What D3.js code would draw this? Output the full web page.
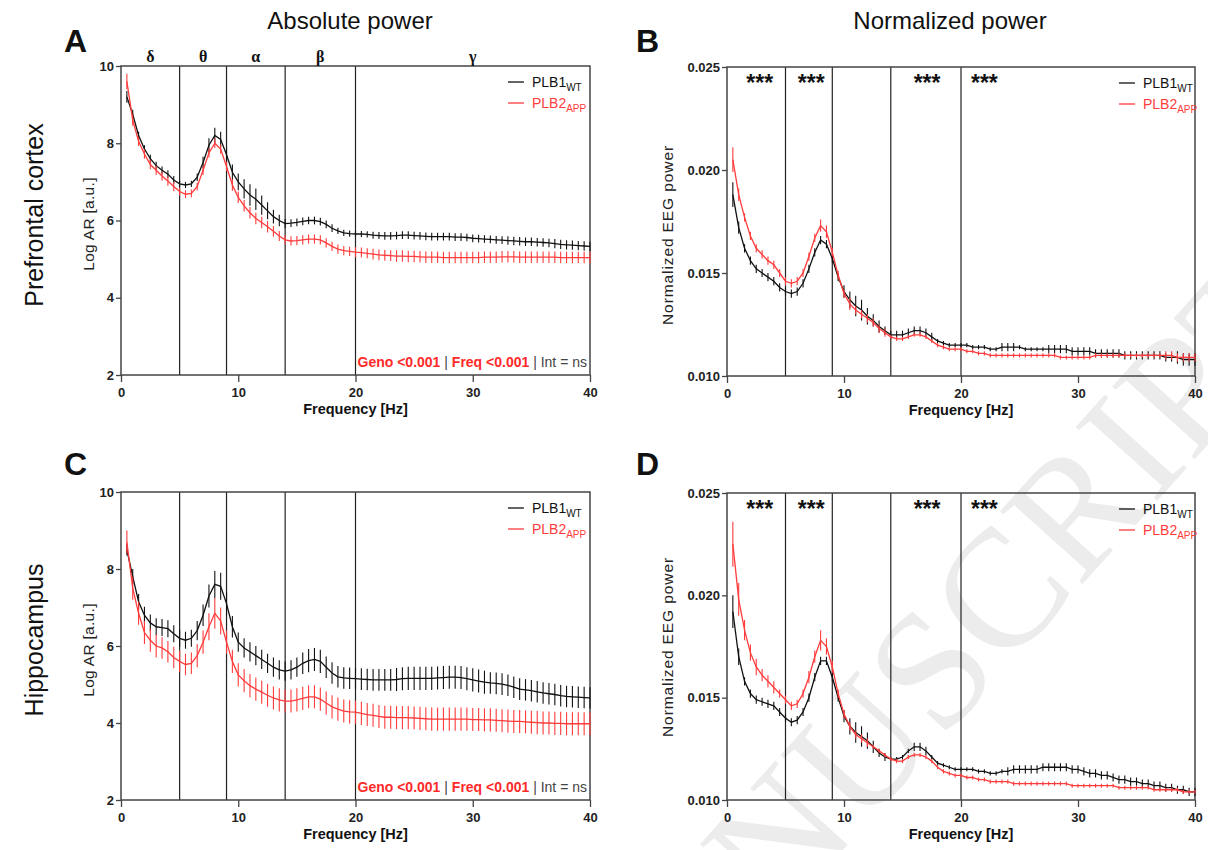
<!DOCTYPE html>
<html>
<head>
<meta charset="utf-8">
<script src="https://cdn.jsdelivr.net/npm/d3@7"></script>
<style>
  body { margin: 0; background: #fff; }
  svg { display: block; font-family: "Liberation Sans", Arial, sans-serif; }
</style>
</head>
<body>
<div id="chart"></div>
<script>
const W = 1208, H = 850;

// frequency bins (Hz)
const freq = [0.5,1,1.5,2,2.5,3,3.5,4,4.5,5,5.5,6,6.5,7,7.5,8,8.5,9,9.5,10,
  10.5,11,11.5,12,12.5,13,13.5,14,14.5,15,15.5,16,16.5,17,17.5,18,18.5,19,19.5,20,
  20.5,21,21.5,22,22.5,23,23.5,24,24.5,25,25.5,26,26.5,27,27.5,28,28.5,29,29.5,30,
  30.5,31,31.5,32,32.5,33,33.5,34,34.5,35,35.5,36,36.5,37,37.5,38,38.5,39,39.5,40];

// A: prefrontal cortex, absolute power (log AR)
const pfcAbsWT = [9.2,8.75,8.2,7.85,7.6,7.42,7.3,7.2,7.05,6.95,6.92,6.95,7.12,7.5,7.95,8.2,8.1,7.7,7.25,7.0,
  6.82,6.66,6.55,6.4,6.25,6.1,6.0,5.92,5.93,5.95,5.98,6.0,6.0,5.97,5.9,5.8,5.73,5.68,5.66,5.65,
  5.65,5.64,5.62,5.61,5.6,5.6,5.61,5.62,5.62,5.61,5.6,5.59,5.58,5.58,5.58,5.58,5.57,5.57,5.56,5.54,
  5.53,5.52,5.51,5.5,5.49,5.48,5.47,5.46,5.45,5.45,5.44,5.43,5.42,5.4,5.38,5.37,5.36,5.35,5.34,5.33];
const pfcAbsAPP = [9.6,8.6,8.05,7.72,7.45,7.3,7.15,7.02,6.88,6.75,6.68,6.7,6.88,7.3,7.75,8.0,7.85,7.4,6.92,6.6,
  6.38,6.2,6.05,5.95,5.84,5.72,5.6,5.5,5.47,5.48,5.5,5.52,5.52,5.5,5.42,5.33,5.26,5.22,5.2,5.18,
  5.17,5.15,5.13,5.11,5.1,5.09,5.08,5.08,5.07,5.07,5.06,5.05,5.05,5.05,5.04,5.04,5.04,5.04,5.04,5.04,
  5.04,5.05,5.05,5.05,5.06,5.06,5.06,5.05,5.05,5.05,5.05,5.05,5.05,5.05,5.04,5.04,5.04,5.04,5.04,5.04];
const pfcAbsWTsem = [0.15,0.12,0.1,0.1,0.1,0.1,0.1,0.1,0.1,0.08,0.08,0.08,0.1,0.15,0.18,0.2,0.2,0.18,0.2,0.22,
  0.25,0.28,0.28,0.25,0.22,0.18,0.15,0.12,0.1,0.1,0.1,0.1,0.1,0.1,0.1,0.1,0.08,0.08,0.08,0.08,
  0.08,0.08,0.09,0.09,0.1,0.1,0.1,0.1,0.1,0.1,0.1,0.1,0.1,0.1,0.1,0.1,0.1,0.1,0.1,0.1,
  0.1,0.1,0.1,0.1,0.1,0.11,0.11,0.11,0.11,0.11,0.11,0.11,0.11,0.12,0.12,0.12,0.12,0.12,0.12,0.12];
const pfcAbsAPPsem = [0.2,0.15,0.12,0.12,0.12,0.12,0.12,0.12,0.12,0.1,0.1,0.1,0.1,0.12,0.12,0.12,0.12,0.12,0.15,0.15,
  0.15,0.15,0.15,0.15,0.15,0.14,0.13,0.12,0.12,0.12,0.12,0.12,0.12,0.12,0.12,0.12,0.12,0.12,0.12,0.13,
  0.13,0.13,0.14,0.14,0.14,0.14,0.15,0.15,0.15,0.15,0.15,0.15,0.15,0.15,0.15,0.15,0.15,0.15,0.15,0.15,
  0.15,0.15,0.15,0.15,0.15,0.15,0.15,0.15,0.15,0.15,0.15,0.15,0.15,0.15,0.15,0.15,0.15,0.15,0.15,0.15];

// B: prefrontal cortex, normalized power
const pfcNormWT = [0.0188,0.0172,0.0162,0.0156,0.0152,0.0150,0.0148,0.0146,0.0143,0.0141,0.0140,0.0141,0.0145,0.0152,0.0160,0.0166,0.0164,0.0157,0.0148,0.0141,
  0.0137,0.0134,0.0132,0.0129,0.0127,0.0124,0.0122,0.0120,0.0120,0.0120,0.0121,0.0122,0.0122,0.0121,0.0119,0.0117,0.0116,0.0115,0.0115,0.0115,
  0.0115,0.0114,0.0114,0.0114,0.0113,0.0113,0.0114,0.0114,0.0114,0.0114,0.0113,0.0113,0.0113,0.0113,0.0113,0.0113,0.0113,0.0113,0.0112,0.0112,
  0.0112,0.0112,0.0111,0.0111,0.0111,0.0111,0.0111,0.0110,0.0110,0.0110,0.0110,0.0110,0.0110,0.0110,0.0109,0.0109,0.0109,0.0108,0.0108,0.0108];
const pfcNormAPP = [0.0205,0.0188,0.0177,0.0168,0.0162,0.0159,0.0156,0.0154,0.0150,0.0146,0.0145,0.0146,0.0150,0.0158,0.0167,0.0173,0.0170,0.0160,0.0149,0.0140,
  0.0135,0.0132,0.0130,0.0128,0.0126,0.0123,0.0121,0.0119,0.0118,0.0118,0.0119,0.0120,0.0120,0.0119,0.0117,0.0115,0.0114,0.0113,0.0113,0.0113,
  0.0112,0.0112,0.0111,0.0111,0.0110,0.0110,0.0110,0.0110,0.0110,0.0110,0.0110,0.0110,0.0110,0.0110,0.0110,0.0110,0.0109,0.0109,0.0109,0.0109,
  0.0109,0.0109,0.0110,0.0110,0.0110,0.0110,0.0110,0.0110,0.0110,0.0110,0.0110,0.0110,0.0110,0.0110,0.0110,0.0110,0.0109,0.0109,0.0109,0.0109];
const pfcNormWTsem = [0.0006,0.0003,0.0002,0.0002,0.0002,0.0002,0.0002,0.0002,0.0002,0.0002,0.0002,0.0002,0.0002,0.0002,0.0002,0.0002,0.0002,0.0002,0.0002,0.0003,
  0.0004,0.0005,0.0005,0.0004,0.0003,0.0003,0.0002,0.0002,0.0002,0.0002,0.0002,0.0002,0.0002,0.0002,0.0002,0.0001,0.0001,0.0001,0.0001,0.0001,
  0.0001,0.0001,0.0001,0.0001,0.0001,0.0001,0.0002,0.0002,0.0002,0.0001,0.0001,0.0001,0.0001,0.0001,0.0002,0.0002,0.0002,0.0002,0.0002,0.0002,
  0.0002,0.0002,0.0002,0.0002,0.0002,0.0002,0.0002,0.0002,0.0002,0.0002,0.0002,0.0002,0.0002,0.0002,0.0002,0.0002,0.0003,0.0003,0.0003,0.0003];
const pfcNormAPPsem = [0.0006,0.0003,0.0002,0.0002,0.0002,0.0002,0.0002,0.0002,0.0002,0.0002,0.0002,0.0002,0.0002,0.0002,0.0002,0.0003,0.0003,0.0002,0.0002,0.0002,
  0.0003,0.0002,0.0002,0.0002,0.0002,0.0002,0.0002,0.0001,0.0001,0.0001,0.0001,0.0001,0.0001,0.0001,0.0001,0.0001,0.0001,0.0001,0.0001,0.0001,
  0.0001,0.0001,0.0001,0.0001,0.0001,0.0001,0.0001,0.0001,0.0001,0.0001,0.0001,0.0001,0.0001,0.0001,0.0001,0.0001,0.0001,0.0001,0.0001,0.0001,
  0.0001,0.0001,0.0001,0.0001,0.0001,0.0001,0.0001,0.0001,0.0001,0.0001,0.0001,0.0001,0.0001,0.0001,0.0002,0.0002,0.0002,0.0002,0.0002,0.0002];

// C: hippocampus, absolute power (log AR)
const hipAbsWT = [8.5,7.8,7.15,6.8,6.6,6.5,6.48,6.45,6.32,6.2,6.15,6.2,6.4,6.8,7.3,7.6,7.55,7.1,6.5,6.1,
  5.95,5.85,5.75,5.65,5.55,5.45,5.38,5.35,5.38,5.45,5.55,5.62,5.65,5.6,5.45,5.3,5.2,5.17,5.16,5.15,
  5.14,5.13,5.12,5.12,5.12,5.12,5.13,5.15,5.16,5.16,5.16,5.16,5.16,5.17,5.18,5.19,5.19,5.18,5.15,5.12,
  5.09,5.06,5.04,5.03,5.01,4.98,4.93,4.88,4.86,4.84,4.81,4.78,4.76,4.74,4.71,4.69,4.68,4.67,4.66,4.65];
const hipAbsAPP = [8.7,7.5,6.85,6.35,6.15,6.0,5.95,5.85,5.7,5.6,5.52,5.55,5.75,6.1,6.5,6.85,6.65,6.1,5.6,5.25,
  5.1,4.97,4.88,4.8,4.72,4.65,4.6,4.57,4.57,4.6,4.64,4.68,4.68,4.62,4.52,4.42,4.36,4.31,4.29,4.28,
  4.25,4.22,4.2,4.17,4.15,4.15,4.14,4.14,4.14,4.13,4.12,4.11,4.1,4.1,4.1,4.1,4.1,4.1,4.1,4.09,
  4.09,4.08,4.08,4.07,4.06,4.05,4.04,4.04,4.03,4.02,4.01,4.0,4.0,3.99,3.99,3.98,3.98,3.98,3.98,3.98];
const hipAbsWTsem = [0.15,0.2,0.2,0.22,0.22,0.22,0.22,0.22,0.22,0.22,0.22,0.22,0.25,0.28,0.3,0.35,0.35,0.3,0.28,0.25,
  0.25,0.25,0.25,0.25,0.25,0.25,0.25,0.25,0.25,0.25,0.28,0.3,0.3,0.3,0.28,0.28,0.28,0.28,0.28,0.28,
  0.28,0.28,0.28,0.28,0.28,0.28,0.3,0.3,0.3,0.3,0.3,0.3,0.3,0.3,0.3,0.3,0.3,0.3,0.3,0.3,
  0.3,0.3,0.28,0.28,0.28,0.28,0.28,0.28,0.28,0.28,0.28,0.28,0.28,0.28,0.28,0.28,0.28,0.28,0.28,0.28];
const hipAbsAPPsem = [0.3,0.3,0.3,0.3,0.3,0.3,0.28,0.28,0.28,0.28,0.28,0.28,0.3,0.3,0.35,0.4,0.35,0.3,0.3,0.3,
  0.3,0.3,0.3,0.3,0.3,0.3,0.3,0.3,0.3,0.3,0.3,0.3,0.3,0.3,0.3,0.3,0.3,0.3,0.3,0.3,
  0.3,0.3,0.3,0.3,0.3,0.3,0.3,0.3,0.3,0.3,0.3,0.3,0.3,0.3,0.3,0.3,0.3,0.3,0.3,0.3,
  0.3,0.3,0.3,0.3,0.3,0.3,0.3,0.3,0.3,0.3,0.3,0.3,0.3,0.3,0.3,0.3,0.3,0.3,0.3,0.3];

// D: hippocampus, normalized power
const hipNormWT = [0.0192,0.0170,0.0158,0.0152,0.0149,0.0148,0.0147,0.0146,0.0143,0.0140,0.0138,0.0139,0.0143,0.0150,0.0160,0.0168,0.0168,0.0160,0.0150,0.0141,
  0.0136,0.0133,0.0131,0.0129,0.0126,0.0123,0.0121,0.0120,0.0120,0.0121,0.0124,0.0126,0.0126,0.0124,0.0121,0.0118,0.0117,0.0116,0.0115,0.0115,
  0.0115,0.0115,0.0114,0.0114,0.0113,0.0113,0.0114,0.0114,0.0115,0.0115,0.0115,0.0115,0.0115,0.0116,0.0116,0.0116,0.0116,0.0116,0.0115,0.0115,
  0.0114,0.0113,0.0113,0.0112,0.0112,0.0111,0.0110,0.0110,0.0109,0.0109,0.0108,0.0108,0.0107,0.0107,0.0106,0.0106,0.0105,0.0105,0.0104,0.0104];
const hipNormAPP = [0.0225,0.0198,0.0183,0.0172,0.0165,0.0161,0.0158,0.0155,0.0152,0.0149,0.0146,0.0147,0.0152,0.0160,0.0170,0.0178,0.0175,0.0165,0.0152,0.0142,
  0.0136,0.0132,0.0130,0.0128,0.0126,0.0124,0.0122,0.0120,0.0119,0.0119,0.0121,0.0122,0.0122,0.0121,0.0119,0.0116,0.0114,0.0113,0.0112,0.0112,
  0.0111,0.0111,0.0110,0.0110,0.0109,0.0109,0.0109,0.0109,0.0108,0.0108,0.0108,0.0108,0.0108,0.0108,0.0108,0.0108,0.0108,0.0108,0.0107,0.0107,
  0.0107,0.0107,0.0107,0.0107,0.0107,0.0107,0.0106,0.0106,0.0106,0.0106,0.0106,0.0106,0.0105,0.0105,0.0105,0.0105,0.0105,0.0104,0.0104,0.0104];
const hipNormWTsem = [0.0008,0.0004,0.0002,0.0002,0.0002,0.0002,0.0002,0.0002,0.0002,0.0002,0.0002,0.0002,0.0002,0.0002,0.0002,0.0002,0.0002,0.0002,0.0002,0.0003,
  0.0004,0.0005,0.0005,0.0004,0.0003,0.0002,0.0002,0.0001,0.0001,0.0001,0.0001,0.0002,0.0002,0.0002,0.0001,0.0001,0.0001,0.0001,0.0001,0.0001,
  0.0001,0.0001,0.0001,0.0001,0.0001,0.0001,0.0001,0.0002,0.0002,0.0002,0.0002,0.0002,0.0002,0.0002,0.0002,0.0002,0.0002,0.0002,0.0002,0.0002,
  0.0002,0.0002,0.0002,0.0002,0.0002,0.0002,0.0002,0.0002,0.0002,0.0002,0.0002,0.0002,0.0002,0.0002,0.0002,0.0002,0.0002,0.0002,0.0002,0.0002];
const hipNormAPPsem = [0.0011,0.0008,0.0005,0.0004,0.0004,0.0003,0.0003,0.0003,0.0002,0.0002,0.0002,0.0002,0.0002,0.0003,0.0003,0.0005,0.0004,0.0003,0.0002,0.0002,
  0.0002,0.0002,0.0002,0.0002,0.0001,0.0001,0.0001,0.0001,0.0001,0.0001,0.0001,0.0001,0.0001,0.0001,0.0001,0.0001,0.0001,0.0001,0.0001,0.0001,
  0.0001,0.0001,0.0001,0.0001,0.0001,0.0001,0.0001,0.0001,0.0001,0.0001,0.0001,0.0001,0.0001,0.0001,0.0001,0.0001,0.0001,0.0001,0.0001,0.0001,
  0.0001,0.0001,0.0001,0.0001,0.0001,0.0001,0.0001,0.0001,0.0001,0.0001,0.0001,0.0001,0.0001,0.0001,0.0001,0.0001,0.0001,0.0001,0.0001,0.0001];

// bands, ticks, labels
const bandEdges = [5, 9, 14, 20];
const bandNames = ["δ", "θ", "α", "β", "γ"];
const bandCenters = [2.5, 7, 11.5, 17, 30];
const starPos = [2.8, 7.2, 17.1, 22];
const xTicks = [0, 10, 20, 30, 40];
const absTicks = [2, 4, 6, 8, 10];
const normTicks = [0.010, 0.015, 0.020, 0.025];
const seriesNames = [["PLB1", "WT"], ["PLB2", "APP"]];
const colWT = "#111111", colAPP = "#ff3b3b";

const svg = d3.select("#chart").append("svg").attr("width", W).attr("height", H);

// watermark (behind everything)
svg.append("text")
  .attr("transform", "translate(1322,318) rotate(-48)")
  .attr("text-anchor", "end")
  .attr("font-family", "Liberation Serif, serif")
  .attr("font-size", 168)
  .attr("fill", "#ececec")
  .text("MANUSCRIPT");

function panel(p) {
  const x = d3.scaleLinear().domain([0, 40]).range([p.left, p.right]);
  const y = d3.scaleLinear().domain(p.ydom).range([p.bottom, p.top]);
  const g = svg.append("g");

  // band separators
  g.selectAll("line.band").data(bandEdges).enter().append("line")
    .attr("x1", d => x(d)).attr("x2", d => x(d))
    .attr("y1", p.top).attr("y2", p.bottom)
    .attr("stroke", "#222").attr("stroke-width", 1.2);

  // frame
  g.append("rect")
    .attr("x", p.left).attr("y", p.top)
    .attr("width", p.right - p.left).attr("height", p.bottom - p.top)
    .attr("fill", "none").attr("stroke", "#444").attr("stroke-width", 1.5);

  // axes
  const xa = g.append("g").attr("transform", `translate(0,${p.bottom})`)
    .call(d3.axisBottom(x).tickValues(xTicks).tickSize(7).tickPadding(3));
  const ya = g.append("g").attr("transform", `translate(${p.left},0)`)
    .call(d3.axisLeft(y).tickValues(p.yticks).tickSize(5).tickPadding(2).tickFormat(p.yfmt));
  [xa, ya].forEach(a => {
    a.select(".domain").remove();
    a.selectAll(".tick line").attr("stroke", "#444").attr("stroke-width", 1.3);
    a.selectAll(".tick text").attr("font-size", 13).attr("font-weight", "bold")
      .attr("fill", "#222").attr("font-family", "Liberation Sans, Arial, sans-serif");
  });
  xa.selectAll(".tick text").attr("dy", "0.95em");

  // series: error bars then line
  [[p.wt, p.wtSem, colWT], [p.app, p.appSem, colAPP]].forEach(([vals, sem, col]) => {
    g.selectAll(null).data(freq).enter().append("line")
      .attr("x1", (d) => x(d)).attr("x2", (d) => x(d))
      .attr("y1", (d, i) => y(vals[i] - sem[i])).attr("y2", (d, i) => y(vals[i] + sem[i]))
      .attr("stroke", col).attr("stroke-width", 1.1);
    const line = d3.line().x((d) => x(d)).y((d, i) => y(vals[i]));
    g.append("path").datum(freq).attr("d", line)
      .attr("fill", "none").attr("stroke", col).attr("stroke-width", 1.3);
  });

  // legend
  seriesNames.forEach((s, i) => {
    const ly = p.top + 16 + i * 21;
    const lx = x(p.legendAt);
    const col = i === 0 ? colWT : colAPP;
    g.append("line").attr("x1", lx).attr("x2", lx + 16).attr("y1", ly).attr("y2", ly)
      .attr("stroke", col).attr("stroke-width", 1.3);
    const t = g.append("text").attr("x", lx + 24).attr("y", ly + 5)
      .attr("font-size", 14).attr("fill", col);
    t.append("tspan").text(s[0]);
    t.append("tspan").attr("dy", 4).attr("font-size", 10).text(s[1]);
  });

  // x axis title
  g.append("text").attr("x", (p.left + p.right) / 2).attr("y", p.bottom + 39)
    .attr("text-anchor", "middle").attr("font-size", 14.5).attr("font-weight", "bold")
    .attr("fill", "#111").text("Frequency [Hz]");

  // y axis title
  g.append("text")
    .attr("transform", `translate(${p.ylabX},${p.ylabY}) rotate(-90)`)
    .attr("text-anchor", "middle").attr("font-size", p.ylabSize)
    .attr("letter-spacing", p.ylabSpacing).attr("fill", "#222")
    .text(p.ylab);

  if (p.stats) {
    const t = g.append("text").attr("x", p.right - 3).attr("y", p.bottom - 8)
      .attr("text-anchor", "end").attr("font-size", 14);
    t.append("tspan").attr("fill", "#ff2a2a").attr("font-weight", "bold").text("Geno <0.001");
    t.append("tspan").attr("fill", "#444").text(" | ");
    t.append("tspan").attr("fill", "#ff2a2a").attr("font-weight", "bold").text("Freq <0.001");
    t.append("tspan").attr("fill", "#444").text(" | Int = ns");
  }
  if (p.stars) {
    g.selectAll(null).data(starPos).enter().append("text")
      .attr("x", d => x(d)).attr("y", p.top + 24)
      .attr("text-anchor", "middle").attr("font-size", 23).attr("font-weight", "bold")
      .attr("fill", "#111").text("***");
  }
  if (p.greek) {
    g.selectAll(null).data(bandNames).enter().append("text")
      .attr("x", (d, i) => x(bandCenters[i])).attr("y", p.top - 4)
      .attr("text-anchor", "middle").attr("font-size", 16).attr("font-weight", "bold")
      .attr("font-family", "Liberation Serif, serif").attr("fill", "#111")
      .text(d => d);
  }
}

const fmt3 = d3.format(".3f");

panel({left: 121, right: 590, top: 66, bottom: 375, ydom: [2, 10], yticks: absTicks, yfmt: d3.format("d"),
  wt: pfcAbsWT, app: pfcAbsAPP, wtSem: pfcAbsWTsem, appSem: pfcAbsAPPsem,
  ylab: "Log AR [a.u.]", ylabX: 94, ylabY: 224, ylabSize: 15.5, ylabSpacing: 0.3,
  legendAt: 33, stats: true, greek: true});
panel({left: 727, right: 1195, top: 67, bottom: 376, ydom: [0.010, 0.025], yticks: normTicks, yfmt: fmt3,
  wt: pfcNormWT, app: pfcNormAPP, wtSem: pfcNormWTsem, appSem: pfcNormAPPsem,
  ylab: "Normalized EEG power", ylabX: 673, ylabY: 235, ylabSize: 15.5, ylabSpacing: 0.9,
  legendAt: 33.5, stars: true});
panel({left: 121, right: 590, top: 492, bottom: 800, ydom: [2, 10], yticks: absTicks, yfmt: d3.format("d"),
  wt: hipAbsWT, app: hipAbsAPP, wtSem: hipAbsWTsem, appSem: hipAbsAPPsem,
  ylab: "Log AR [a.u.]", ylabX: 94, ylabY: 650, ylabSize: 15.5, ylabSpacing: 0.3,
  legendAt: 33, stats: true});
panel({left: 727, right: 1195, top: 493, bottom: 800, ydom: [0.010, 0.025], yticks: normTicks, yfmt: fmt3,
  wt: hipNormWT, app: hipNormAPP, wtSem: hipNormWTsem, appSem: hipNormAPPsem,
  ylab: "Normalized EEG power", ylabX: 673, ylabY: 647, ylabSize: 15.5, ylabSpacing: 0.9,
  legendAt: 33.5, stars: true});

// column titles
svg.append("text").attr("x", 350).attr("y", 29).attr("text-anchor", "middle")
  .attr("font-size", 24).attr("fill", "#111").text("Absolute power");
svg.append("text").attr("x", 950).attr("y", 29).attr("text-anchor", "middle")
  .attr("font-size", 24).attr("fill", "#111").text("Normalized power");

// row titles
svg.append("text").attr("transform", "translate(43,215) rotate(-90)").attr("text-anchor", "middle")
  .attr("font-size", 25).attr("fill", "#111").text("Prefrontal cortex");
svg.append("text").attr("transform", "translate(43,640) rotate(-90)").attr("text-anchor", "middle")
  .attr("font-size", 25).attr("fill", "#111").text("Hippocampus");

// panel letters
[["A", 64, 52], ["B", 636, 52], ["C", 64, 475], ["D", 636, 475]].forEach(([l, px, py]) => {
  svg.append("text").attr("x", px).attr("y", py).attr("font-size", 32).attr("font-weight", "bold")
    .attr("fill", "#111").text(l);
});
</script>
</body>
</html>
